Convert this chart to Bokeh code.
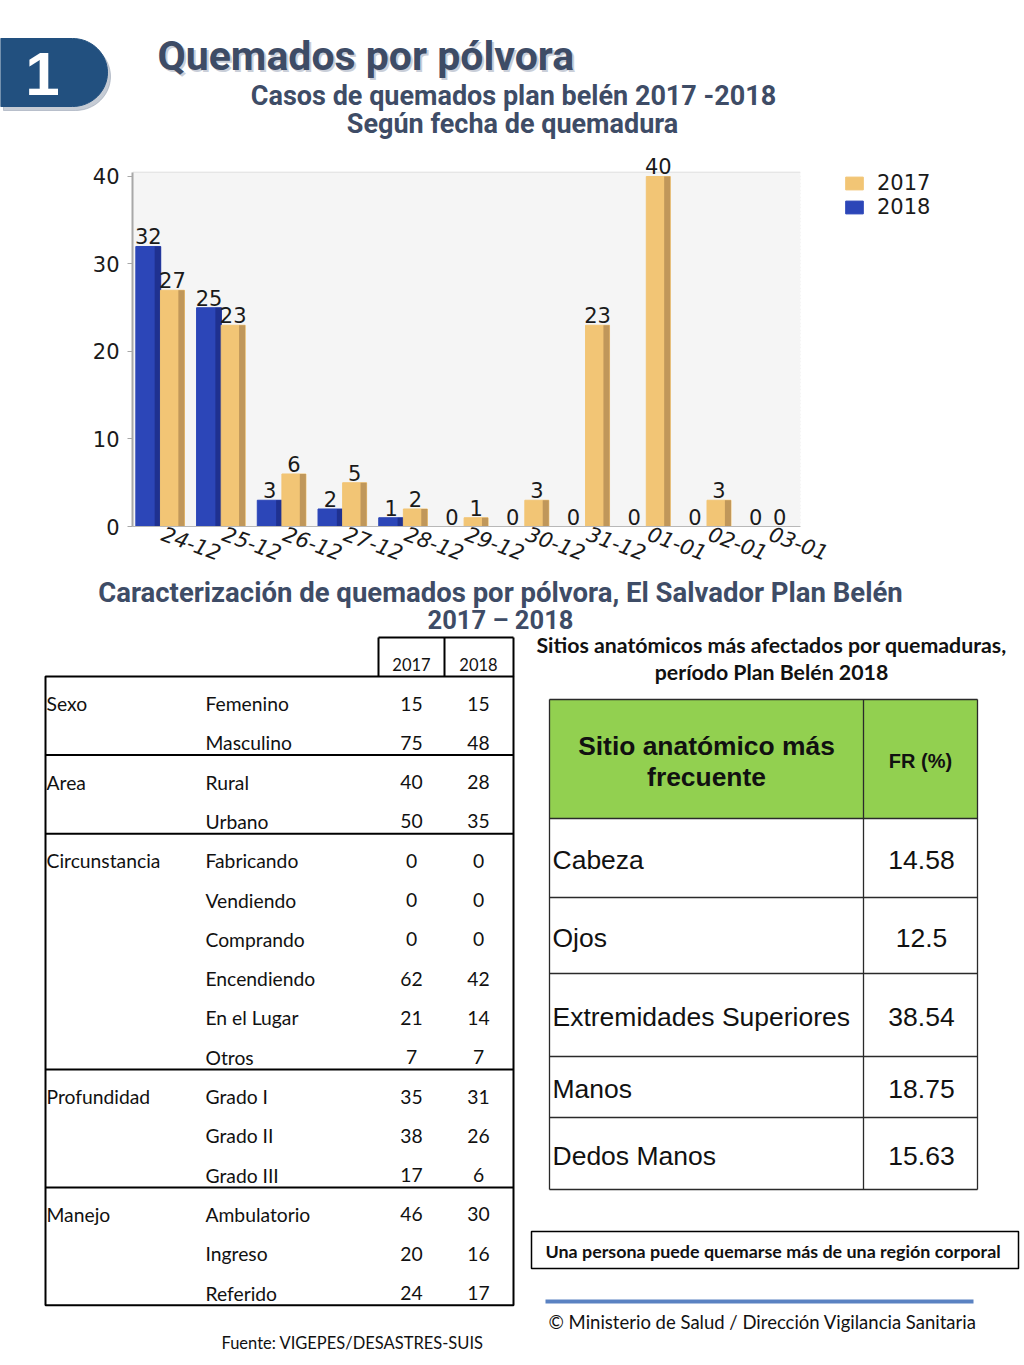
import numpy as np
from bokeh.plotting import figure
from bokeh.layouts import column
from bokeh.models import (Range1d, FactorRange, Legend, LegendItem, ColumnDataSource,
                          SingleIntervalTicker, FixedTicker, BoxAnnotation)
from bokeh.transform import dodge
from bokeh.core.properties import value
from bokeh.embed import file_html
from bokeh.resources import INLINE

# ---------------- data ----------------
dates = ["24-12", "25-12", "26-12", "27-12", "28-12", "29-12", "30-12",
         "31-12", "01-01", "02-01", "03-01"]
casos_2017 = [27, 23, 6, 5, 2, 1, 3, 23, 40, 3, 0]
casos_2018 = [32, 25, 3, 2, 1, 0, 0, 0, 0, 0, 0]
y_ticks = [0, 10, 20, 30, 40]

grupos = ["Sexo", "Area", "Circunstancia", "Profundidad", "Manejo"]
grupo_filas = [2, 2, 6, 3, 3]
subcategorias = ["Femenino", "Masculino", "Rural", "Urbano", "Fabricando", "Vendiendo",
                 "Comprando", "Encendiendo", "En el Lugar", "Otros", "Grado I",
                 "Grado II", "Grado III", "Ambulatorio", "Ingreso", "Referido"]
tabla_2017 = [15, 75, 40, 50, 0, 0, 0, 62, 21, 7, 35, 38, 17, 46, 20, 24]
tabla_2018 = [15, 48, 28, 35, 0, 0, 0, 42, 14, 7, 31, 26, 6, 30, 16, 17]
anios = ["2017", "2018"]

sitios = ["Cabeza", "Ojos", "Extremidades Superiores", "Manos", "Dedos Manos"]
fr_pct = ["14.58", "12.5", "38.54", "18.75", "15.63"]

# ---------------- styles ----------------
W = 1024
TITLE_C = "#3e4c66"
BLUE, BLUE_D = "#2c46b8", "#1f3190"
GOLD, GOLD_D = "#f2c575", "#c0975a"
SANS = value("Roboto")
BODY = value("Lato")
ARIAL = value("Liberation Sans")
DJ = value("DejaVu Sans")
CHART_FS = "21px"


def canvas(y0, h):
    p = figure(width=W, height=h, x_range=Range1d(0, W), y_range=Range1d(y0 + h, y0),
               output_backend="svg", toolbar_location=None, min_border=0,
               x_axis_type=None, y_axis_type=None, frame_align=False)
    p.grid.visible = False
    p.outline_line_color = None
    return p


def txt(p, x, y, s, size, font, style="normal", color="#111111", align="left",
        baseline="middle"):
    p.text(x=x, y=y, text=s, text_font=font, text_font_style=style,
           text_font_size=f"{size}px", text_color=color, text_align=align,
           text_baseline=baseline)


# ---------------- header ----------------
HDR_H = 150
hdr = canvas(0, HDR_H)
t = np.linspace(-np.pi / 2, np.pi / 2, 40)
bx = [0, 72] + list(72 + 35 * np.cos(t)) + [0]
by = [38, 38] + list(72 + 34 * np.sin(t)) + [106]
hdr.patch([v + 3 for v in bx], [v + 4 for v in by], color="#8d99ab", alpha=0.5)
hdr.patch(bx, by, color="#22507f")
txt(hdr, [42], [73], ["1"], 62, ARIAL, "bold", "white", "center")
txt(hdr, [159], [57], ["Quemados por pólvora"], 41, SANS, "bold", "#c9ced8", "left")
txt(hdr, [157], [55], ["Quemados por pólvora"], 41, SANS, "bold", TITLE_C, "left")
txt(hdr, [513], [95], ["Casos de quemados plan belén 2017 -2018"], 27, SANS, "bold", TITLE_C, "center")
txt(hdr, [512], [123], ["Según fecha de quemadura"], 27, SANS, "bold", TITLE_C, "center")

# ---------------- bar chart ----------------
CH_H = 425
Y_TOP_BG = 40.46
chart = figure(width=W, height=CH_H, x_range=FactorRange(factors=dates),
               y_range=Range1d(0, 42.97), output_backend="svg", toolbar_location=None,
               min_border_left=132, min_border_right=0, min_border_top=0,
               min_border_bottom=49, frame_align=False, frame_width=668)
chart.x_range.range_padding = 0
chart.outline_line_color = None
chart.background_fill_color = "white"
chart.add_layout(BoxAnnotation(bottom=0, top=Y_TOP_BG, fill_color="#f5f5f5",
                               fill_alpha=1, line_color=None, level="underlay"))

src = ColumnDataSource(dict(fecha=dates, a2017=casos_2017, a2018=casos_2018,
                            l2017=[str(v) for v in casos_2017],
                            l2018=[str(v) for v in casos_2018]))
r18 = chart.vbar(x=dodge("fecha", -0.24, range=chart.x_range), top="a2018", width=0.41,
                 source=src, fill_color=BLUE, line_color=BLUE, line_width=1)
chart.vbar(x=dodge("fecha", -0.085, range=chart.x_range), top="a2018", width=0.1,
           source=src, fill_color=BLUE_D, line_color=None)
r17 = chart.vbar(x=dodge("fecha", 0.158, range=chart.x_range), top="a2017", width=0.395,
                 source=src, fill_color=GOLD, line_color=GOLD, line_width=1)
chart.vbar(x=dodge("fecha", 0.305, range=chart.x_range), top="a2017", width=0.1,
           source=src, fill_color=GOLD_D, line_color=None)

chart.text(x=dodge("fecha", -0.24, range=chart.x_range), y="a2018", text="l2018", source=src,
           text_font=DJ, text_font_size=CHART_FS, text_color="#1a1a1a", text_align="center",
           text_baseline="bottom", y_offset=-2)
chart.text(x=dodge("fecha", 0.158, range=chart.x_range), y="a2017", text="l2017", source=src,
           text_font=DJ, text_font_size=CHART_FS, text_color="#1a1a1a", text_align="center",
           text_baseline="bottom", y_offset=-2)

chart.xgrid.grid_line_color = None
chart.ygrid.ticker = SingleIntervalTicker(interval=0.4)
chart.ygrid.bounds = (0, Y_TOP_BG)
chart.ygrid.grid_line_color = "#d6d6d6"
chart.ygrid.grid_line_width = 1.3

chart.yaxis.ticker = FixedTicker(ticks=y_ticks)
chart.yaxis.bounds = (0, Y_TOP_BG)
chart.yaxis.major_label_text_font = "DejaVu Sans"
chart.yaxis.major_label_text_font_size = CHART_FS
chart.yaxis.major_label_text_color = "#1a1a1a"
chart.yaxis.axis_line_color = "#a8a8a8"
chart.yaxis.axis_line_width = 2
chart.yaxis.major_tick_line_color = "#a8a8a8"
chart.yaxis.major_tick_out = 5
chart.yaxis.major_tick_in = 0
chart.yaxis.minor_tick_line_color = None
chart.yaxis.major_label_standoff = 8

chart.xaxis.major_label_orientation = -0.35
chart.xaxis.major_label_text_font = "DejaVu Sans"
chart.xaxis.major_label_text_font_style = "italic"
chart.xaxis.major_label_text_font_size = CHART_FS
chart.xaxis.major_label_text_color = "#1a1a1a"
chart.xaxis.axis_line_color = "#b8b8b8"
chart.xaxis.major_tick_line_color = None
chart.xaxis.major_label_standoff = 0

legend = Legend(items=[LegendItem(label="2017", renderers=[r17]),
                       LegendItem(label="2018", renderers=[r18])],
                location=(43, 307), border_line_color=None, background_fill_alpha=0,
                padding=0, margin=0, spacing=0, glyph_width=22, glyph_height=16,
                label_standoff=12, label_text_font="DejaVu Sans",
                label_text_font_size=CHART_FS, label_text_color="#1a1a1a",
                label_height=16)
chart.add_layout(legend, "right")

# ---------------- bottom section ----------------
Y0 = HDR_H + CH_H
bot = canvas(Y0, 1365 - Y0)
txt(bot, [500], [592], ["Caracterización de quemados por pólvora, El Salvador Plan Belén"],
    27.5, SANS, "bold", TITLE_C, "center")
txt(bot, [500], [619], ["2017 – 2018"], 25.5, SANS, "bold", TITLE_C, "center")

# left table
TOP, ROW = 676, 39.3
L, R, C1, C2 = 45, 513, 378, 444
X17, X18 = 411, 478
lw = 2
bot.segment(x0=[C1, C1, C2, R], y0=[637, 637, 637, 637], x1=[R, C1, C2, R],
            y1=[637, TOP, TOP, TOP], color="black", line_width=lw)
bot.quad(left=L, right=R, top=TOP, bottom=TOP + ROW * len(subcategorias),
         fill_color=None, line_color="black", line_width=lw)
txt(bot, [X17, X18], [664, 664], anios, 16.5, BODY, "normal", "#111111", "center")

cum = np.cumsum([0] + grupo_filas)
sep_y = [TOP + ROW * c for c in cum[1:-1]]
bot.segment(x0=[L] * len(sep_y), y0=sep_y, x1=[R] * len(sep_y), y1=sep_y,
            color="black", line_width=lw)
row_y = [TOP + ROW * i + 27 for i in range(len(subcategorias))]
txt(bot, [L + 1] * len(grupos), [row_y[c] for c in cum[:-1]], grupos, 19.3, BODY)
txt(bot, [205] * len(subcategorias), row_y, subcategorias, 19.3, BODY)
txt(bot, [X17] * len(tabla_2017), row_y, [str(v) for v in tabla_2017], 19.3, BODY,
    align="center")
txt(bot, [X18] * len(tabla_2018), row_y, [str(v) for v in tabla_2018], 19.3, BODY,
    align="center")
txt(bot, [352], [1342], ["Fuente: VIGEPES/DESASTRES-SUIS"], 16.5, BODY, align="center")

# right table
txt(bot, [771], [644], ["Sitios anatómicos más afectados por quemaduras,"], 21.3, BODY,
    "bold", "#111111", "center")
txt(bot, [771], [671], ["período Plan Belén 2018"], 21.3, BODY, "bold", "#111111", "center")
RL, RR, RC = 549, 977, 863
row_b = [699, 818, 897, 973, 1056, 1117, 1189]
bot.quad(left=RL, right=RR, top=row_b[0], bottom=row_b[1], fill_color="#92d050",
         line_color=None)
bot.segment(x0=[RL] * len(row_b), y0=row_b, x1=[RR] * len(row_b), y1=row_b,
            color="#2a2a2a", line_width=1.3)
bot.segment(x0=[RL, RC, RR], y0=[row_b[0]] * 3, x1=[RL, RC, RR], y1=[row_b[-1]] * 3,
            color="#2a2a2a", line_width=1.3)
txt(bot, [706, 706], [745, 776], ["Sitio anatómico más", "frecuente"], 26.4, ARIAL, "bold",
    "#111111", "center")
txt(bot, [920], [760], ["FR (%)"], 20, ARIAL, "bold", "#111111", "center")
cy = [(row_b[i] + row_b[i + 1]) / 2 + 2 for i in range(1, len(row_b) - 1)]
txt(bot, [552] * len(sitios), cy, sitios, 26.5, ARIAL, "normal", "#111111", "left")
txt(bot, [921] * len(fr_pct), cy, fr_pct, 26.5, ARIAL, "normal", "#111111", "center")

# note box & footer
bot.quad(left=531, right=1018, top=1231, bottom=1268, fill_color=None, line_color="black",
         line_width=1.5)
txt(bot, [545], [1250], ["Una persona puede quemarse más de una región corporal"], 17.9,
    BODY, "bold")
bot.segment(x0=[545], y0=[1301], x1=[973], y1=[1301], color="#5a82c2", line_width=4)
txt(bot, [548], [1321], ["© Ministerio de Salud / Dirección Vigilancia Sanitaria"], 18.5,
    BODY, "normal", "#111111")

page = column(hdr, chart, bot, spacing=0)
open("out.html", "w").write(file_html(page, INLINE))
